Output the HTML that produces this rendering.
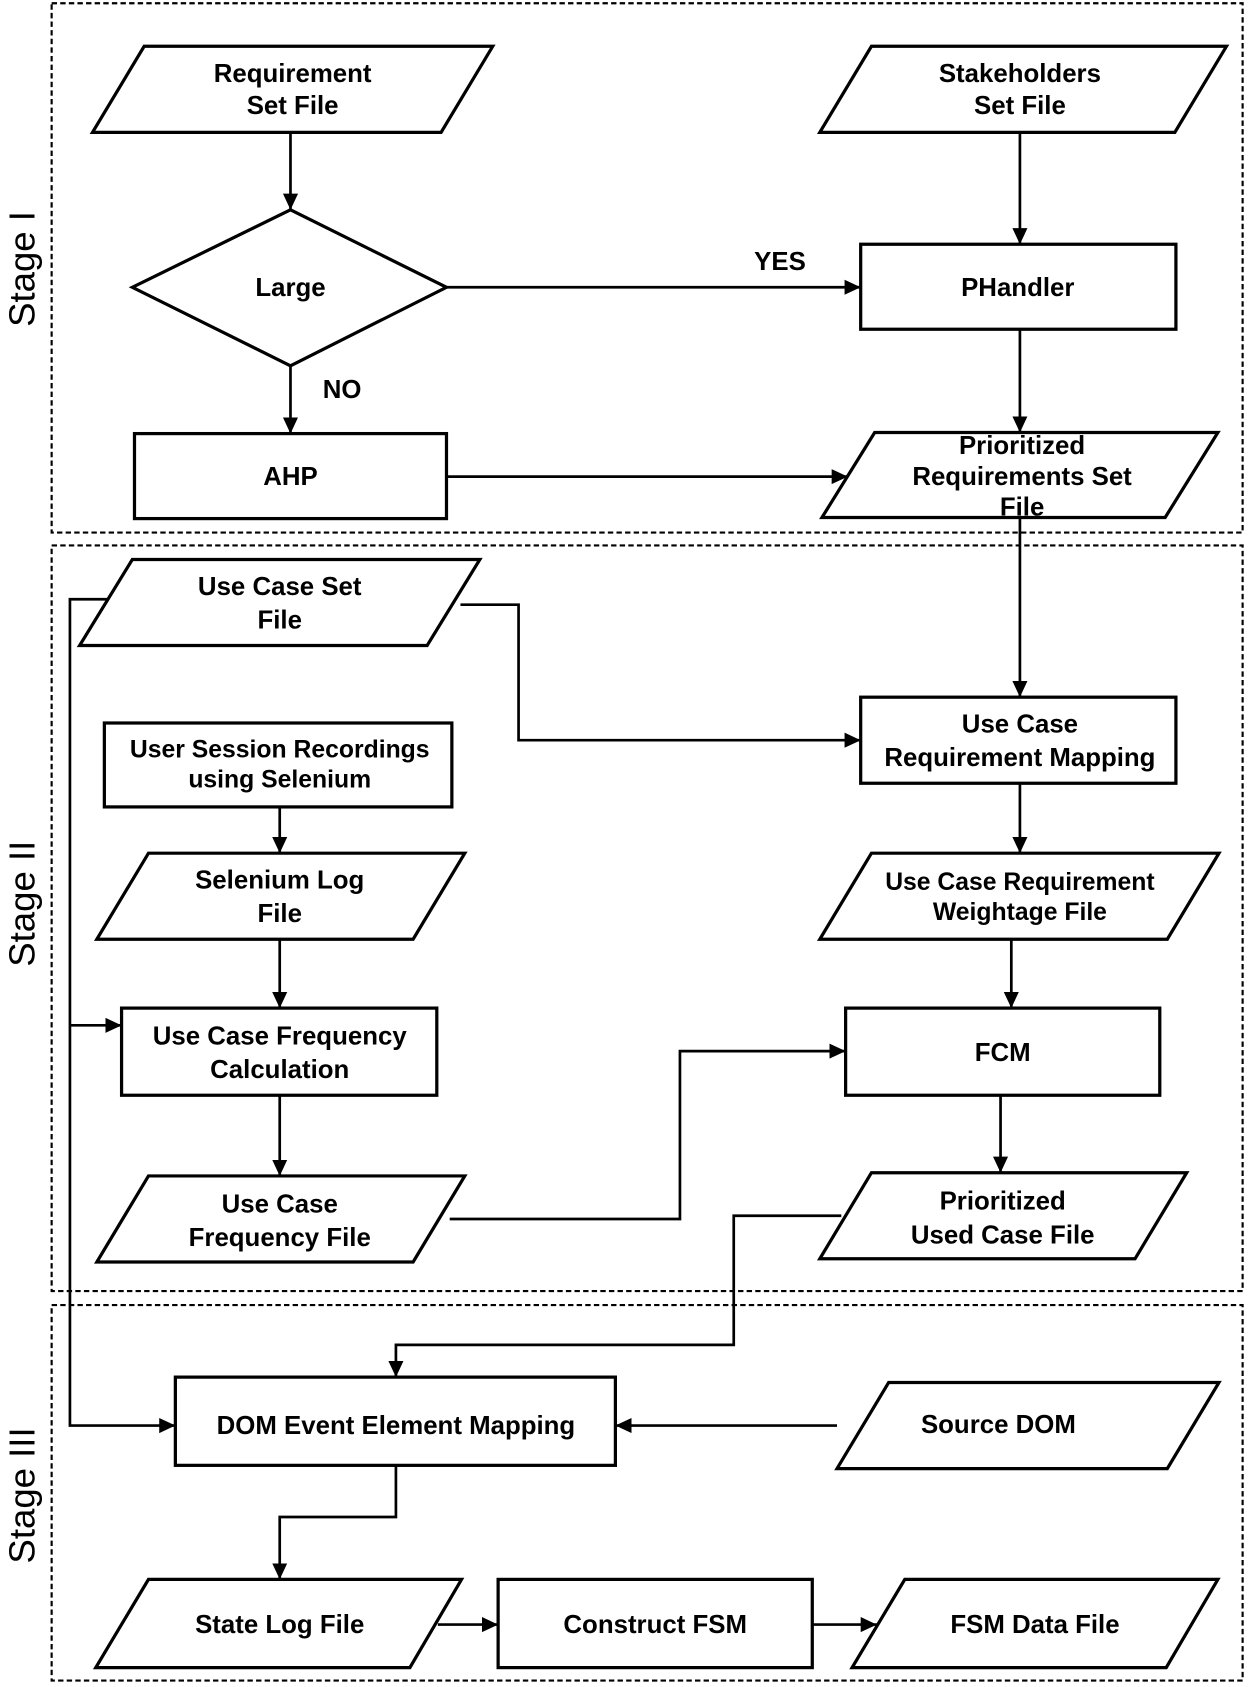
<!DOCTYPE html>
<html><head><meta charset="utf-8"><style>
html,body{margin:0;padding:0;background:#fff;}
svg{display:block;}
text{font-family:"Liberation Sans",Arial,sans-serif;font-weight:bold;font-size:24px;fill:#000;text-anchor:middle;}
.st{font-weight:normal;font-size:34px;}
</style></head><body>
<svg width="1248" height="1687" viewBox="0 0 1160 1568" xmlns="http://www.w3.org/2000/svg">
<defs>
<marker id="b" markerWidth="16" markerHeight="16" refX="15" refY="7" orient="auto" markerUnits="userSpaceOnUse"><path d="M0,0 L15,7 L0,14 z" fill="#000"/></marker></defs>
<g fill="none" stroke="#000" stroke-width="2" stroke-dasharray="5,3">
<rect x="48" y="3" width="1107" height="492"/>
<rect x="48" y="507" width="1107" height="693"/>
<rect x="48" y="1213" width="1107" height="349"/>
</g>
<text class="st" transform="translate(32,250) rotate(-90)">Stage I</text>
<text class="st" transform="translate(32,840) rotate(-90)">Stage II</text>
<text class="st" transform="translate(32,1390) rotate(-90)">Stage III</text>
<g fill="#fff" stroke="#000" stroke-width="3">
<polygon points="134,43 458,43 410,123 86,123"/>
<polygon points="810,43 1140,43 1092,123 762,123"/>
<polygon points="123,267 270,195 415,267 270,340"/>
<rect x="800" y="227" width="293" height="79"/>
<rect x="125" y="403" width="290" height="79"/>
<polygon points="813,402 1132,402 1083,481 764,481"/>
<polygon points="123,520 446,520 397,600 74,600"/>
<rect x="800" y="648" width="293" height="80"/>
<rect x="97" y="672" width="323" height="78"/>
<polygon points="138,793 432,793 384,873 90,873"/>
<polygon points="810,793 1133,793 1085,873 762,873"/>
<rect x="113" y="937" width="293" height="81"/>
<rect x="786" y="937" width="292" height="81"/>
<polygon points="138,1093 432,1093 384,1173 90,1173"/>
<polygon points="810,1090 1103,1090 1055,1170 762,1170"/>
<rect x="163" y="1280" width="409" height="82"/>
<polygon points="826,1285 1133,1285 1085,1365 778,1365"/>
<polygon points="138,1468 429,1468 381,1550 89,1550"/>
<rect x="463" y="1468" width="292" height="82"/>
<polygon points="841,1468 1132,1468 1084,1550 792,1550"/>
</g>
<g fill="none" stroke="#000" stroke-width="2.5" marker-end="url(#b)">
<path d="M270,123 V195"/>
<path d="M948,123 V227"/>
<path d="M415,267 H800"/>
<path d="M270,340 V403"/>
<path d="M415,443 H788"/>
<path d="M948,306 V402"/>
<path d="M948,481 V648"/>
<path d="M428,562 H482 V688 H800"/>
<path d="M100,557 H65 V1325 H163"/>
<path d="M65,953 H113"/>
<path d="M948,728 V793"/>
<path d="M940,873 V937"/>
<path d="M930,1018 V1090"/>
<path d="M782,1130 H682 V1250 H368 V1280"/>
<path d="M260,750 V793"/>
<path d="M260,873 V937"/>
<path d="M260,1018 V1093"/>
<path d="M418,1133 H632 V977 H786"/>
<path d="M778,1325 H572"/>
<path d="M368,1362 V1410 H260 V1468"/>
<path d="M407,1510 H463"/>
<path d="M755,1510 H815"/>
</g>
<text x="272" y="76">Requirement</text><text x="272" y="106">Set File</text>
<text x="948" y="76">Stakeholders</text><text x="948" y="106">Set File</text>
<text x="270" y="275">Large</text>
<text x="946" y="275">PHandler</text>
<text x="725" y="251">YES</text>
<text x="318" y="370">NO</text>
<text x="270" y="451">AHP</text>
<text x="950" y="422">Prioritized</text><text x="950" y="451">Requirements Set</text><text x="950" y="479">File</text>
<text x="260" y="553">Use Case Set</text><text x="260" y="584">File</text>
<text x="948" y="681">Use Case</text><text x="948" y="712">Requirement Mapping</text>
<text x="260" y="704" style="font-size:23px">User Session Recordings</text><text x="260" y="732" style="font-size:23px">using Selenium</text>
<text x="260" y="826">Selenium Log</text><text x="260" y="857">File</text>
<text x="948" y="827" style="font-size:23px">Use Case Requirement</text><text x="948" y="855" style="font-size:23px">Weightage File</text>
<text x="260" y="971">Use Case Frequency</text><text x="260" y="1002">Calculation</text>
<text x="932" y="986">FCM</text>
<text x="260" y="1127">Use Case</text><text x="260" y="1158">Frequency File</text>
<text x="932" y="1124">Prioritized</text><text x="932" y="1156">Used Case File</text>
<text x="368" y="1333">DOM Event Element Mapping</text>
<text x="928" y="1332">Source DOM</text>
<text x="260" y="1518">State Log File</text>
<text x="609" y="1518">Construct FSM</text>
<text x="962" y="1518">FSM Data File</text>
</svg>
</body></html>
